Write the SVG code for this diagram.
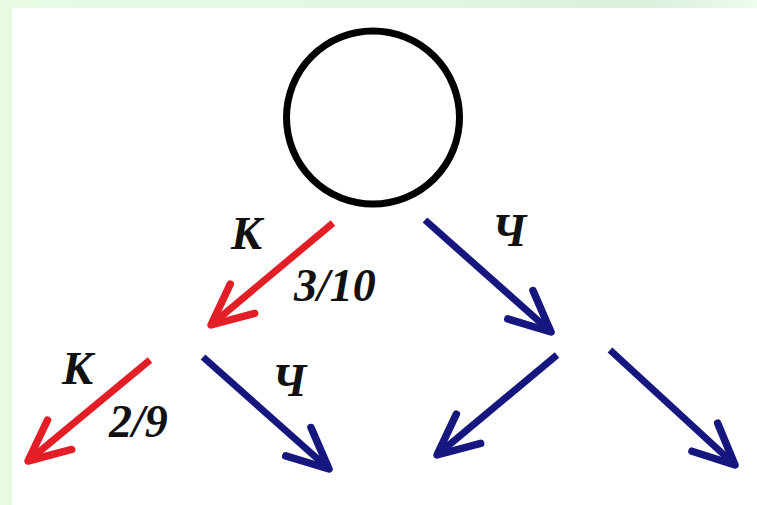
<svg xmlns="http://www.w3.org/2000/svg" width="757" height="505" viewBox="0 0 757 505">
  <style>
    .red { stroke: #e41e26; stroke-width: 7; fill: none; }
    .blue { stroke: #16167f; stroke-width: 7; fill: none; }
    .lbl { font-family: "Liberation Serif", "Times New Roman", serif; font-weight: bold; font-style: italic; font-size: 46px; fill: #111; }
  </style>
  <defs>
    <linearGradient id="bandTop" x1="0" y1="0" x2="1" y2="0">
      <stop offset="0" stop-color="#e6fbe2"/>
      <stop offset="0.5" stop-color="#e3f8e4"/>
      <stop offset="0.85" stop-color="#d9efdc"/>
      <stop offset="1" stop-color="#ecfcef"/>
    </linearGradient>
    <marker id="hRed" markerUnits="userSpaceOnUse" viewBox="-50 -30 60 60" refX="0" refY="0" markerWidth="60" markerHeight="60" orient="auto" overflow="visible">
      <path d="M-41,-19 L0,0 L-41,19" fill="none" stroke="#e41e26" stroke-width="7.5" stroke-linejoin="round" stroke-linecap="round"/>
    </marker>
    <marker id="hBlue" markerUnits="userSpaceOnUse" viewBox="-50 -30 60 60" refX="0" refY="0" markerWidth="60" markerHeight="60" orient="auto" overflow="visible">
      <path d="M-41,-19 L0,0 L-41,19" fill="none" stroke="#16167f" stroke-width="7.5" stroke-linejoin="round" stroke-linecap="round"/>
    </marker>
  </defs>
  <rect x="0" y="0" width="757" height="505" fill="#ffffff"/>
  <rect x="0" y="0" width="757" height="8" fill="url(#bandTop)"/>
  <rect x="0" y="0" width="12" height="505" fill="#e6fbe0"/>

  <g id="root">
    <circle cx="373" cy="117.5" r="86.5" fill="none" stroke="#000" stroke-width="7"/>
  </g>

  <g id="connectors">
    <line class="red" x1="333" y1="223" x2="211" y2="325" marker-end="url(#hRed)"/>
    <line class="blue" x1="425" y1="220" x2="551" y2="332" marker-end="url(#hBlue)"/>
    <line class="red" x1="150" y1="360" x2="28" y2="461" marker-end="url(#hRed)"/>
    <line class="blue" x1="203" y1="357" x2="329" y2="469" marker-end="url(#hBlue)"/>
    <line class="blue" x1="557" y1="355" x2="437" y2="455" marker-end="url(#hBlue)"/>
    <line class="blue" x1="610" y1="350" x2="735" y2="465" marker-end="url(#hBlue)"/>
  </g>

  <g id="labels">
    <text class="lbl" x="231" y="249">К</text>
    <text class="lbl" x="492" y="246">Ч</text>
    <text class="lbl" x="294" y="301">3/10</text>
    <text class="lbl" x="62" y="384">К</text>
    <text class="lbl" x="109" y="437">2/9</text>
    <text class="lbl" x="272" y="396">Ч</text>
  </g>
</svg>
